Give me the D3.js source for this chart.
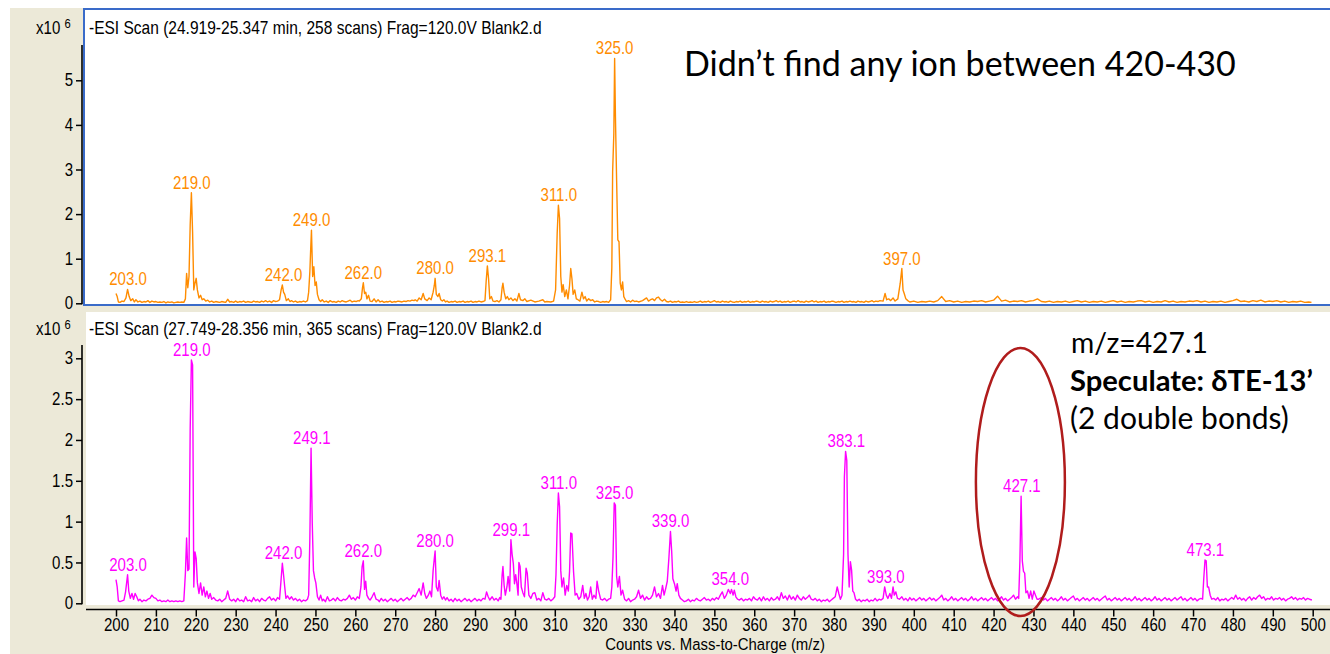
<!DOCTYPE html>
<html>
<head>
<meta charset="utf-8">
<script src="https://cdn.jsdelivr.net/npm/d3@7"></script>
<style>
  html, body { margin: 0; padding: 0; background: #ffffff; overflow: hidden; }
  svg { display: block; }
</style>
</head>
<body>
<svg id="chart" width="1330" height="654"></svg>
<script>
// ---- Spectrum 1: -ESI Scan (24.919-25.347 min), [m/z, counts x10^6] ----
const scanA = [
  [200.0,0.22],[200.3,0.15],[200.6,0.03],[201.0,0.02],[201.5,0.05],[202.0,0.04],[202.5,0.12],[202.9,0.31],[203.3,0.15],[203.7,0.06],
  [204.2,0.10],[204.6,0.03],[205.0,0.08],[205.5,0.03],[206.0,0.05],[206.5,0.02],[207.0,0.04],[207.5,0.03],[208.0,0.06],[208.5,0.02],
  [209.0,0.05],[209.5,0.03],[210.0,0.04],[210.5,0.02],[211.0,0.03],[211.5,0.02],[212.0,0.04],[212.5,0.01],[213.0,0.03],[213.5,0.02],
  [214.0,0.03],[214.5,0.01],[215.0,0.02],[215.5,0.03],[216.0,0.02],[216.5,0.03],[217.0,0.02],[217.4,0.10],[217.7,0.67],[218.0,0.35],
  [218.3,0.60],[218.6,1.76],[218.9,2.48],[219.2,1.60],[219.5,0.30],[219.8,0.45],[220.1,0.56],[220.4,0.30],[220.8,0.12],[221.2,0.18],
  [221.6,0.08],[222.0,0.10],[222.5,0.05],[223.0,0.07],[223.5,0.03],[224.0,0.05],[224.5,0.02],[225.0,0.04],[225.5,0.03],[226.0,0.02],
  [226.5,0.04],[227.0,0.03],[227.5,0.02],[228.0,0.09],[228.5,0.03],[229.0,0.04],[229.5,0.02],[230.0,0.05],[230.5,0.02],[231.0,0.04],
  [231.5,0.03],[232.0,0.05],[232.5,0.02],[233.0,0.04],[233.5,0.03],[234.0,0.02],[234.5,0.05],[235.0,0.03],[235.5,0.04],[236.0,0.02],
  [236.5,0.05],[237.0,0.03],[237.5,0.06],[238.0,0.03],[238.5,0.05],[239.0,0.02],[239.5,0.06],[240.0,0.04],[240.5,0.05],[241.0,0.08],
  [241.4,0.30],[241.7,0.41],[242.0,0.25],[242.3,0.20],[242.7,0.06],[243.2,0.10],[243.6,0.04],[244.0,0.06],[244.5,0.03],[245.0,0.05],
  [245.5,0.02],[246.0,0.04],[246.5,0.03],[247.0,0.05],[247.5,0.03],[248.0,0.06],[248.3,0.25],[248.6,0.71],[248.8,1.20],[249.0,1.64],
  [249.3,0.60],[249.6,0.82],[249.9,0.40],[250.2,0.48],[250.5,0.20],[250.9,0.08],[251.3,0.04],[251.7,0.08],[252.2,0.03],[252.7,0.05],
  [253.2,0.02],[253.7,0.06],[254.2,0.03],[254.7,0.04],[255.2,0.02],[255.7,0.05],[256.2,0.03],[256.7,0.06],[257.2,0.04],[257.7,0.03],
  [258.2,0.05],[258.7,0.07],[259.2,0.03],[259.7,0.05],[260.2,0.04],[260.7,0.06],[261.0,0.05],[261.5,0.10],[261.8,0.35],[262.0,0.46],
  [262.3,0.22],[262.6,0.25],[262.9,0.10],[263.3,0.18],[263.7,0.05],[264.2,0.04],[264.7,0.10],[265.2,0.03],[265.7,0.08],[266.2,0.03],
  [266.7,0.05],[267.2,0.02],[267.7,0.04],[268.2,0.03],[268.7,0.05],[269.2,0.02],[269.7,0.04],[270.2,0.03],[270.7,0.05],[271.2,0.04],
  [271.7,0.03],[272.2,0.05],[272.7,0.04],[273.2,0.06],[273.7,0.05],[274.2,0.07],[274.7,0.06],[275.0,0.08],[275.5,0.05],[276.0,0.12],
  [276.5,0.08],[277.0,0.22],[277.4,0.10],[278.0,0.06],[278.5,0.12],[279.0,0.08],[279.5,0.25],[279.8,0.40],[280.0,0.56],[280.3,0.20],
  [280.7,0.15],[281.0,0.22],[281.4,0.08],[281.8,0.05],[282.2,0.08],[282.6,0.03],[283.0,0.05],[283.5,0.02],[284.0,0.04],[284.5,0.03],
  [285.0,0.05],[285.5,0.02],[286.0,0.04],[286.5,0.03],[287.0,0.05],[287.5,0.02],[288.0,0.04],[288.5,0.03],[289.0,0.05],[289.5,0.02],
  [290.0,0.04],[290.5,0.03],[291.0,0.05],[291.5,0.03],[292.0,0.04],[292.5,0.06],[292.8,0.50],[293.1,0.84],[293.4,0.55],[293.7,0.10],
  [294.1,0.15],[294.5,0.05],[295.0,0.04],[295.5,0.06],[296.0,0.03],[296.5,0.08],[296.8,0.35],[297.0,0.45],[297.3,0.25],[297.7,0.10],
  [298.1,0.15],[298.5,0.08],[299.0,0.12],[299.5,0.06],[300.0,0.10],[300.5,0.05],[301.0,0.22],[301.4,0.08],[302.0,0.06],[302.5,0.10],
  [303.0,0.04],[304.0,0.07],[305.0,0.03],[306.0,0.05],[307.0,0.08],[307.5,0.03],[308.0,0.04],[309.0,0.03],[309.7,0.05],[310.2,0.30],
  [310.6,1.57],[310.9,2.20],[311.2,1.90],[311.5,0.60],[311.8,0.25],[312.1,0.42],[312.5,0.15],[312.9,0.30],[313.3,0.10],[313.7,0.40],
  [314.0,0.78],[314.3,0.55],[314.6,0.20],[315.0,0.30],[315.4,0.10],[315.8,0.08],[316.3,0.05],[316.8,0.25],[317.2,0.10],[317.6,0.15],
  [318.0,0.05],[318.5,0.10],[319.0,0.06],[319.5,0.08],[320.0,0.03],[320.5,0.05],[321.0,0.04],[321.5,0.02],[322.0,0.04],[322.5,0.03],
  [323.0,0.04],[323.5,0.02],[324.0,0.08],[324.3,0.80],[324.5,2.95],[324.8,3.80],[325.0,5.49],[325.2,4.20],[325.5,2.76],[325.8,1.42],
  [326.1,1.38],[326.4,0.45],[326.7,0.30],[327.0,0.48],[327.3,0.15],[327.7,0.08],[328.0,0.04],[328.5,0.06],[329.0,0.03],[329.5,0.07],
  [330.0,0.04],[330.5,0.05],[331.0,0.03],[332.0,0.06],[333.0,0.12],[333.5,0.05],[334.0,0.08],[334.5,0.10],[335.0,0.06],[335.5,0.12],
  [336.0,0.14],[336.5,0.08],[337.0,0.05],[337.5,0.09],[338.0,0.04],[338.5,0.03],[339.0,0.05],[339.5,0.02],[340.0,0.04],[340.5,0.03],
  [341.0,0.05],[341.5,0.02],[342.0,0.03],[342.5,0.02],[343.0,0.04],[343.5,0.02],[344.0,0.03],[344.5,0.02],[345.0,0.04],[345.5,0.02],
  [346.0,0.03],[346.5,0.05],[347.0,0.02],[347.5,0.04],[348.0,0.03],[348.5,0.05],[349.0,0.02],[349.5,0.04],[350.0,0.06],[350.5,0.03],
  [351.0,0.04],[351.5,0.02],[352.0,0.05],[352.5,0.03],[353.0,0.04],[353.5,0.02],[354.0,0.05],[354.5,0.03],[355.0,0.02],[355.5,0.04],
  [356.0,0.03],[356.5,0.05],[357.0,0.02],[357.5,0.04],[358.0,0.03],[358.5,0.05],[359.0,0.02],[359.5,0.04],[360.0,0.03],[360.5,0.05],
  [361.0,0.04],[361.5,0.02],[362.0,0.05],[362.5,0.03],[363.0,0.04],[363.5,0.02],[364.0,0.05],[364.5,0.03],[365.0,0.04],[365.5,0.06],
  [366.0,0.03],[366.5,0.05],[367.0,0.02],[367.5,0.04],[368.0,0.03],[368.5,0.05],[369.0,0.02],[369.5,0.04],[370.0,0.05],[370.5,0.03],
  [371.0,0.06],[371.5,0.03],[372.0,0.04],[372.5,0.02],[373.0,0.05],[373.5,0.03],[374.0,0.04],[374.5,0.06],[375.0,0.03],[375.5,0.05],
  [376.0,0.02],[376.5,0.04],[377.0,0.03],[377.5,0.05],[378.0,0.02],[378.5,0.04],[379.0,0.03],[379.5,0.05],[380.0,0.04],[380.5,0.02],
  [381.0,0.04],[381.5,0.03],[382.0,0.05],[382.5,0.02],[383.0,0.04],[383.5,0.03],[384.0,0.05],[384.5,0.03],[385.0,0.04],[385.5,0.02],
  [386.0,0.05],[386.5,0.03],[387.0,0.04],[387.5,0.02],[388.0,0.05],[388.5,0.03],[389.0,0.04],[389.5,0.06],[390.0,0.03],[390.5,0.05],
  [391.0,0.04],[391.5,0.06],[392.3,0.05],[392.8,0.22],[393.2,0.08],[393.7,0.10],[394.2,0.06],[394.8,0.12],[395.3,0.05],[396.0,0.10],
  [396.6,0.45],[397.0,0.78],[397.3,0.30],[397.6,0.22],[398.0,0.10],[398.5,0.06],[399.0,0.03],[400.0,0.05],[401.0,0.02],[402.0,0.04],
  [403.0,0.03],[404.0,0.05],[405.0,0.03],[406.0,0.06],[407.0,0.15],[408.0,0.04],[409.0,0.06],[410.0,0.03],[411.0,0.05],[412.0,0.02],
  [413.0,0.04],[414.0,0.03],[415.0,0.05],[416.0,0.04],[417.0,0.06],[418.0,0.03],[419.0,0.05],[420.0,0.07],[421.0,0.16],[422.0,0.05],
  [423.0,0.07],[424.0,0.03],[425.0,0.05],[426.0,0.04],[427.0,0.06],[428.0,0.03],[429.0,0.05],[430.0,0.06],[431.0,0.10],[432.0,0.04],
  [433.0,0.03],[434.0,0.05],[435.0,0.02],[436.0,0.04],[437.0,0.03],[438.0,0.05],[439.0,0.02],[440.0,0.04],[441.0,0.06],[442.0,0.03],
  [443.0,0.05],[444.0,0.02],[445.0,0.04],[446.0,0.03],[447.0,0.05],[448.0,0.02],[449.0,0.04],[450.0,0.06],[451.0,0.03],[452.0,0.05],
  [453.0,0.02],[454.0,0.04],[455.0,0.03],[456.0,0.05],[457.0,0.06],[458.0,0.03],[459.0,0.05],[460.0,0.02],[461.0,0.04],[462.0,0.03],
  [463.0,0.06],[464.0,0.03],[465.0,0.05],[466.0,0.02],[467.0,0.04],[468.0,0.03],[469.0,0.05],[470.0,0.04],[471.0,0.06],[472.0,0.03],
  [473.0,0.05],[474.0,0.02],[475.0,0.04],[476.0,0.03],[477.0,0.05],[478.0,0.02],[479.0,0.04],[480.0,0.06],[481.0,0.09],[482.0,0.04],
  [483.0,0.05],[484.0,0.03],[485.0,0.06],[486.0,0.04],[487.0,0.07],[488.0,0.03],[489.0,0.05],[490.0,0.04],[491.0,0.06],[492.0,0.03],
  [493.0,0.05],[494.0,0.02],[495.0,0.04],[496.0,0.03],[497.0,0.05],[498.0,0.02],[499.0,0.03],[499.7,0.02]
];

// ---- Spectrum 2: -ESI Scan (27.749-28.356 min), [m/z, counts x10^6] ----
const scanB = [
  [200.0,0.29],[200.3,0.20],[200.6,0.03],[201.0,0.02],[201.5,0.03],[202.0,0.04],[202.4,0.14],[202.9,0.35],[203.2,0.15],[203.6,0.06],
  [204.0,0.12],[204.4,0.05],[204.8,0.12],[205.2,0.08],[205.6,0.03],[206.0,0.05],[206.5,0.02],[207.0,0.04],[207.5,0.03],[208.0,0.05],
  [208.5,0.06],[209.0,0.10],[209.5,0.07],[210.0,0.06],[210.5,0.03],[211.0,0.04],[211.5,0.02],[212.0,0.03],[212.5,0.02],[213.0,0.04],
  [213.5,0.02],[214.0,0.03],[214.5,0.02],[215.0,0.03],[215.5,0.02],[216.0,0.03],[216.5,0.02],[217.0,0.03],[217.4,0.37],[217.7,0.80],
  [218.0,0.40],[218.3,0.42],[218.6,2.14],[218.9,2.98],[219.2,2.92],[219.5,0.20],[219.8,0.63],[220.1,0.55],[220.4,0.25],[220.8,0.12],
  [221.2,0.25],[221.6,0.10],[222.0,0.20],[222.4,0.08],[222.8,0.15],[223.2,0.06],[223.6,0.12],[224.0,0.05],[224.5,0.07],[225.0,0.04],
  [225.5,0.03],[226.0,0.05],[226.5,0.02],[227.0,0.04],[227.5,0.06],[228.0,0.15],[228.5,0.05],[229.0,0.03],[229.5,0.05],[230.0,0.02],
  [230.5,0.06],[231.0,0.03],[231.5,0.04],[232.0,0.02],[232.5,0.08],[233.0,0.03],[233.5,0.04],[234.0,0.02],[234.5,0.07],[235.0,0.03],
  [235.5,0.05],[236.0,0.02],[236.5,0.06],[237.0,0.04],[237.5,0.03],[238.0,0.06],[238.5,0.08],[239.0,0.04],[239.5,0.06],[240.0,0.03],
  [240.5,0.07],[241.0,0.05],[241.4,0.30],[241.7,0.49],[242.0,0.35],[242.3,0.20],[242.6,0.06],[243.0,0.09],[243.5,0.05],[244.0,0.08],
  [244.5,0.04],[245.0,0.06],[245.5,0.03],[246.0,0.05],[246.5,0.02],[247.0,0.04],[247.5,0.03],[248.0,0.05],[248.3,0.10],[248.6,0.80],
  [248.9,1.90],[249.2,0.98],[249.5,0.40],[249.8,0.31],[250.1,0.25],[250.5,0.08],[250.9,0.04],[251.3,0.10],[251.7,0.03],[252.0,0.05],
  [252.5,0.02],[253.0,0.08],[253.5,0.03],[254.0,0.04],[254.5,0.06],[255.0,0.03],[255.5,0.07],[256.0,0.04],[256.5,0.03],[257.0,0.05],
  [257.5,0.04],[258.0,0.06],[258.5,0.10],[259.0,0.05],[259.5,0.07],[260.0,0.04],[260.5,0.08],[261.0,0.06],[261.4,0.20],[261.7,0.45],
  [262.0,0.52],[262.3,0.17],[262.6,0.27],[262.9,0.10],[263.3,0.06],[263.7,0.04],[264.2,0.08],[264.7,0.13],[265.2,0.05],[265.7,0.04],
  [266.0,0.02],[266.5,0.06],[267.0,0.03],[267.5,0.05],[268.0,0.02],[268.5,0.04],[269.0,0.06],[269.5,0.03],[270.0,0.05],[270.5,0.02],
  [271.0,0.04],[271.5,0.06],[272.0,0.03],[272.5,0.05],[273.0,0.07],[273.5,0.04],[274.0,0.06],[274.5,0.10],[275.0,0.08],[275.5,0.13],
  [276.0,0.18],[276.5,0.10],[277.0,0.25],[277.4,0.12],[277.8,0.06],[278.3,0.10],[278.7,0.15],[279.1,0.08],[279.5,0.40],[279.8,0.55],
  [280.0,0.64],[280.3,0.20],[280.7,0.15],[281.0,0.28],[281.4,0.10],[281.8,0.05],[282.2,0.08],[282.6,0.04],[283.0,0.07],[283.5,0.03],
  [284.0,0.05],[284.5,0.02],[285.0,0.06],[285.5,0.03],[286.0,0.05],[286.5,0.02],[287.0,0.04],[287.5,0.06],[288.0,0.03],[288.5,0.05],
  [289.0,0.02],[289.5,0.04],[290.0,0.06],[290.5,0.03],[291.0,0.05],[291.5,0.03],[292.0,0.06],[292.5,0.05],[292.9,0.14],[293.3,0.08],
  [293.7,0.04],[294.3,0.08],[294.8,0.04],[295.3,0.06],[295.8,0.03],[296.2,0.07],[296.5,0.05],[296.8,0.35],[297.0,0.45],[297.3,0.22],
  [297.6,0.10],[298.0,0.20],[298.3,0.33],[298.7,0.15],[299.0,0.78],[299.3,0.60],[299.6,0.49],[299.9,0.24],[300.2,0.35],[300.5,0.24],
  [300.8,0.10],[301.0,0.50],[301.3,0.45],[301.6,0.20],[302.0,0.13],[302.4,0.08],[302.8,0.43],[303.1,0.37],[303.5,0.10],[304.0,0.06],
  [304.5,0.12],[305.0,0.13],[305.5,0.04],[306.0,0.06],[306.5,0.03],[307.0,0.13],[307.5,0.05],[308.0,0.04],[308.5,0.06],[309.0,0.03],
  [309.5,0.05],[310.0,0.08],[310.3,0.35],[310.6,0.96],[310.9,1.35],[311.2,1.18],[311.5,0.40],[311.8,0.20],[312.2,0.31],[312.6,0.10],
  [313.0,0.22],[313.4,0.15],[313.7,0.39],[314.0,0.86],[314.3,0.85],[314.7,0.39],[315.1,0.10],[315.5,0.12],[316.0,0.05],[316.5,0.08],
  [317.0,0.22],[317.4,0.06],[317.8,0.12],[318.2,0.04],[318.6,0.08],[319.0,0.20],[319.4,0.05],[319.8,0.10],[320.3,0.06],[320.6,0.27],
  [321.0,0.15],[321.5,0.05],[322.0,0.04],[322.5,0.06],[323.0,0.03],[323.5,0.05],[324.0,0.06],[324.3,0.20],[324.6,0.57],[324.9,1.23],
  [325.2,1.20],[325.5,0.33],[325.8,0.20],[326.2,0.33],[326.6,0.10],[327.0,0.16],[327.5,0.05],[328.0,0.03],[328.5,0.06],[329.0,0.02],
  [329.5,0.04],[330.0,0.05],[330.5,0.08],[331.0,0.16],[331.5,0.06],[332.0,0.10],[332.5,0.04],[333.0,0.08],[333.5,0.05],[334.0,0.06],
  [334.5,0.10],[335.0,0.20],[335.5,0.08],[336.0,0.12],[336.5,0.06],[337.0,0.22],[337.4,0.10],[337.8,0.18],[338.2,0.27],[338.6,0.55],
  [339.0,0.88],[339.3,0.64],[339.6,0.30],[340.0,0.24],[340.4,0.15],[340.7,0.24],[341.1,0.10],[341.5,0.06],[342.0,0.04],[342.5,0.02],
  [343.0,0.03],[343.5,0.05],[344.0,0.02],[344.5,0.04],[345.0,0.03],[345.5,0.06],[346.0,0.04],[346.5,0.03],[347.0,0.05],[347.5,0.07],
  [348.0,0.04],[348.5,0.05],[349.0,0.03],[349.5,0.06],[350.0,0.04],[350.5,0.07],[351.0,0.05],[351.5,0.10],[352.0,0.14],[352.5,0.06],
  [353.0,0.10],[353.5,0.17],[354.0,0.12],[354.3,0.17],[354.7,0.10],[355.0,0.16],[355.4,0.08],[355.8,0.05],[356.3,0.04],[356.8,0.06],
  [357.3,0.03],[357.8,0.05],[358.3,0.04],[358.8,0.06],[359.3,0.03],[359.8,0.08],[360.3,0.05],[360.8,0.04],[361.3,0.07],[361.8,0.03],
  [362.3,0.08],[362.8,0.04],[363.3,0.06],[363.8,0.03],[364.3,0.07],[364.8,0.04],[365.3,0.05],[365.8,0.08],[366.3,0.04],[366.8,0.13],
  [367.3,0.06],[367.8,0.09],[368.3,0.04],[368.8,0.10],[369.3,0.05],[369.8,0.08],[370.3,0.04],[370.8,0.10],[371.3,0.06],[371.8,0.04],
  [372.3,0.08],[372.8,0.05],[373.3,0.07],[373.8,0.10],[374.3,0.05],[374.8,0.04],[375.3,0.06],[375.8,0.03],[376.3,0.05],[376.8,0.02],
  [377.3,0.04],[377.8,0.03],[378.3,0.05],[378.8,0.02],[379.3,0.04],[379.8,0.06],[380.3,0.08],[380.8,0.20],[381.2,0.12],[381.6,0.05],
  [382.0,0.10],[382.4,0.60],[382.6,1.55],[382.9,1.86],[383.2,1.75],[383.5,0.60],[383.8,0.20],[384.1,0.51],[384.4,0.41],[384.7,0.15],
  [385.0,0.13],[385.4,0.05],[385.8,0.03],[386.3,0.05],[386.8,0.02],[387.3,0.04],[387.8,0.03],[388.3,0.05],[388.8,0.02],[389.3,0.04],
  [389.8,0.03],[390.3,0.06],[390.8,0.03],[391.3,0.05],[391.8,0.04],[392.3,0.06],[392.7,0.20],[393.1,0.10],[393.5,0.06],[394.0,0.12],
  [394.4,0.06],[394.8,0.20],[395.1,0.10],[395.5,0.14],[395.9,0.06],[396.4,0.05],[397.0,0.08],[397.5,0.04],[398.0,0.06],[398.5,0.03],
  [399.0,0.07],[399.5,0.04],[400.0,0.06],[400.5,0.03],[401.0,0.05],[401.5,0.07],[402.0,0.04],[402.5,0.06],[403.0,0.03],[403.5,0.05],
  [404.0,0.07],[404.5,0.04],[405.0,0.06],[405.5,0.03],[406.0,0.05],[406.5,0.07],[407.0,0.10],[407.5,0.04],[408.0,0.06],[408.5,0.03],
  [409.0,0.05],[409.5,0.08],[410.0,0.04],[410.5,0.06],[411.0,0.03],[411.5,0.05],[412.0,0.07],[412.5,0.04],[413.0,0.06],[413.5,0.03],
  [414.0,0.05],[414.5,0.08],[415.0,0.04],[415.5,0.06],[416.0,0.03],[416.5,0.05],[417.0,0.07],[417.5,0.04],[418.0,0.06],[418.5,0.03],
  [419.0,0.05],[419.5,0.07],[420.0,0.04],[420.5,0.06],[421.0,0.03],[421.5,0.05],[422.0,0.08],[422.5,0.04],[423.0,0.06],[423.5,0.03],
  [424.0,0.05],[424.5,0.07],[425.0,0.10],[425.5,0.05],[426.0,0.08],[426.3,0.06],[426.6,0.52],[426.9,1.31],[427.2,0.52],[427.5,0.39],
  [427.8,0.37],[428.1,0.13],[428.5,0.15],[428.9,0.06],[429.3,0.15],[429.7,0.05],[430.1,0.15],[430.5,0.10],[430.9,0.05],[431.3,0.05],
  [432.0,0.07],[432.5,0.04],[433.0,0.06],[433.5,0.03],[434.0,0.05],[434.5,0.07],[435.0,0.04],[435.5,0.06],[436.0,0.03],[436.5,0.05],
  [437.0,0.08],[437.5,0.04],[438.0,0.06],[438.5,0.03],[439.0,0.05],[439.5,0.07],[440.0,0.09],[440.5,0.04],[441.0,0.06],[441.5,0.03],
  [442.0,0.05],[442.5,0.07],[443.0,0.04],[443.5,0.06],[444.0,0.03],[444.5,0.05],[445.0,0.07],[445.5,0.04],[446.0,0.06],[446.5,0.03],
  [447.0,0.05],[447.5,0.07],[448.0,0.09],[448.5,0.04],[449.0,0.06],[449.5,0.03],[450.0,0.05],[450.5,0.07],[451.0,0.04],[451.5,0.06],
  [452.0,0.03],[452.5,0.05],[453.0,0.07],[453.5,0.04],[454.0,0.06],[454.5,0.03],[455.0,0.05],[455.5,0.08],[456.0,0.04],[456.5,0.06],
  [457.0,0.03],[457.5,0.05],[458.0,0.07],[458.5,0.04],[459.0,0.06],[459.5,0.03],[460.0,0.05],[460.5,0.08],[461.0,0.04],[461.5,0.06],
  [462.0,0.03],[462.5,0.05],[463.0,0.07],[463.5,0.04],[464.0,0.06],[464.5,0.03],[465.0,0.05],[465.5,0.07],[466.0,0.04],[466.5,0.06],
  [467.0,0.08],[467.5,0.04],[468.0,0.06],[468.5,0.03],[469.0,0.05],[469.5,0.07],[470.0,0.04],[470.5,0.06],[471.0,0.03],[471.5,0.05],
  [472.0,0.06],[472.4,0.05],[472.7,0.31],[473.0,0.53],[473.3,0.52],[473.6,0.20],[473.9,0.20],[474.3,0.10],[474.7,0.05],[475.2,0.06],
  [475.7,0.04],[476.2,0.07],[476.7,0.03],[477.2,0.05],[477.7,0.04],[478.2,0.06],[478.7,0.03],[479.2,0.05],[479.7,0.07],[480.2,0.05],
  [480.7,0.10],[481.2,0.05],[481.7,0.07],[482.2,0.04],[482.7,0.06],[483.2,0.03],[483.7,0.06],[484.2,0.08],[484.7,0.04],[485.2,0.07],
  [485.7,0.05],[486.2,0.08],[486.7,0.10],[487.2,0.06],[487.7,0.08],[488.2,0.04],[488.7,0.06],[489.2,0.05],[489.7,0.08],[490.2,0.04],
  [490.7,0.06],[491.2,0.05],[491.7,0.07],[492.2,0.04],[492.7,0.06],[493.2,0.03],[493.7,0.05],[494.2,0.06],[494.7,0.08],[495.2,0.05],
  [495.7,0.07],[496.2,0.04],[496.7,0.06],[497.2,0.05],[497.7,0.07],[498.2,0.04],[498.7,0.06],[499.2,0.05],[499.8,0.04]
];

// Peak annotations (m/z) shown above each spectrum
const peaksA = [203.0, 219.0, 242.0, 249.0, 262.0, 280.0, 293.1, 311.0, 325.0, 397.0];
const peaksB = [203.0, 219.0, 242.0, 249.1, 262.0, 280.0, 299.1, 311.0, 325.0, 339.0, 354.0, 383.1, 393.0, 427.1, 473.1];

// Axis ticks
const mzTicks = [200,210,220,230,240,250,260,270,280,290,300,310,320,330,340,350,360,370,380,390,400,410,420,430,440,450,460,470,480,490,500];
const countTicksA = [0,1,2,3,4,5];
const countTicksB = [0,0.5,1,1.5,2,2.5,3];

// Text
const titleA = "-ESI Scan (24.919-25.347 min, 258 scans) Frag=120.0V Blank2.d";
const titleB = "-ESI Scan (27.749-28.356 min, 365 scans) Frag=120.0V Blank2.d";
const xTitle = "Counts vs. Mass-to-Charge (m/z)";
const noteA = "Didn\u2019t find any ion between 420-430";
const noteB = ["m/z=427.1", "Speculate: \u03B4TE-13\u2019", "(2 double bonds)"];
const circledMz = 427.1;

// ---------------------------------------------------------------
const UI_FONT = "'Liberation Sans', Arial, sans-serif";
const UI_SIZE = 17.5;
const UI_SQUEEZE = 0.86;          // narrow, tall instrument-software lettering
const NOTE_FONT = "Lato, 'Open Sans', sans-serif";
const ORANGE = "#FF8C00";
const MAGENTA = "#FF00FF";
const PANEL_BG = "#ECE9D8";
const SEL_BLUE = "#3A6BC9";

const svg = d3.select("#chart");

// Scale a text element's font size so it spans a given width
function fitWidth(sel, width) {
  const w = sel.node().getComputedTextLength();
  const fs = parseFloat(sel.attr("font-size"));
  sel.attr("font-size", fs * width / w);
  return sel;
}

// Place a free-standing text at (px, py) and compress it horizontally
function narrowText(sel, px, py, sx) {
  sel.attr("x", 0).attr("y", 0).attr("transform", `translate(${px},${py}) scale(${sx},1)`);
  return sel;
}

// Compress axis tick labels horizontally while keeping their anchor point
function narrowTicks(axisG, sx) {
  axisG.selectAll("text").each(function () {
    const t = d3.select(this);
    const x0 = parseFloat(t.attr("x")) || 0;
    t.attr("x", x0 / sx).attr("transform", `scale(${sx},1)`);
  });
}

// Window background
svg.append("rect").attr("x", 10).attr("y", 8).attr("width", 1320).attr("height", 646).attr("fill", PANEL_BG);

// Shared m/z scale
const x = d3.scaleLinear().domain([200, 500]).range([116, 1312.7]);

// Count scales for each pane
const yA = d3.scaleLinear().domain([0, 5]).range([303.3, 80.3]);
const yB = d3.scaleLinear().domain([0, 3]).range([603.3, 358.3]);

// Plot backgrounds
svg.append("rect").attr("x", 84).attr("y", 9).attr("width", 1260).attr("height", 296)
  .attr("fill", "#fff").attr("stroke", SEL_BLUE).attr("stroke-width", 2);
svg.append("rect").attr("x", 86).attr("y", 312).attr("width", 1250).attr("height", 293).attr("fill", "#fff");

function drawPane(data, y, ticks, axisTop, color, peaks, title, baseTitleY) {
  // y axis
  const ax = svg.append("g").attr("transform", "translate(82,0)")
    .call(d3.axisLeft(y).tickValues(ticks).tickSize(6).tickPadding(3).tickFormat(d3.format("~g")));
  ax.select(".domain").remove();
  ax.selectAll("line").attr("stroke", "#000").attr("stroke-width", 1.5);
  ax.selectAll("text").attr("font-family", UI_FONT).attr("font-size", UI_SIZE).attr("fill", "#000");
  narrowTicks(ax, UI_SQUEEZE);
  svg.append("line").attr("x1", 82).attr("x2", 82).attr("y1", axisTop).attr("y2", y(0) + 1)
    .attr("stroke", "#000").attr("stroke-width", 1.6);

  // exponent label
  const ex = svg.append("text").attr("font-family", UI_FONT).attr("font-size", UI_SIZE).attr("fill", "#000");
  ex.append("tspan").text("x10");
  ex.append("tspan").attr("dx", 5).attr("dy", -6).attr("font-size", 13).text("6");
  narrowText(ex, 36, baseTitleY, UI_SQUEEZE);

  // scan title, compressed to the pane's caption width
  const tt = svg.append("text").attr("font-family", UI_FONT).attr("font-size", UI_SIZE)
    .attr("fill", "#000").text(title);
  narrowText(tt, 89, baseTitleY, 453 / tt.node().getComputedTextLength());

  // spectrum trace
  const line = d3.line().x(d => x(d[0])).y(d => y(d[1]));
  svg.append("path").datum(data).attr("d", line)
    .attr("fill", "none").attr("stroke", color).attr("stroke-width", 1.4).attr("stroke-linejoin", "round");

  // peak labels, placed just above the highest point of each labelled peak
  const g = svg.append("g");
  peaks.forEach(d => {
    const near = data.filter(p => Math.abs(p[0] - d) <= 0.6);
    const t = g.append("text").attr("text-anchor", "middle")
      .attr("font-family", UI_FONT).attr("font-size", UI_SIZE).attr("fill", color)
      .text(d.toFixed(1));
    narrowText(t, x(d), y(d3.max(near, p => p[1])) - 4, UI_SQUEEZE);
  });
}

drawPane(scanA, yA, countTicksA, 45, ORANGE, peaksA, titleA, 34);
drawPane(scanB, yB, countTicksB, 345, MAGENTA, peaksB, titleB, 335);

// m/z axis under the lower pane
const xa = svg.append("g").attr("transform", "translate(0,609.5)")
  .call(d3.axisBottom(x).tickValues(mzTicks).tickSize(7).tickPadding(2).tickFormat(d3.format("d")));
xa.select(".domain").remove();
xa.selectAll("line").attr("stroke", "#000").attr("stroke-width", 1.5);
xa.selectAll("text").attr("font-family", UI_FONT).attr("font-size", UI_SIZE).attr("fill", "#000");
narrowTicks(xa, UI_SQUEEZE);
svg.append("line").attr("x1", 86).attr("x2", 1330).attr("y1", 609.5).attr("y2", 609.5)
  .attr("stroke", "#000").attr("stroke-width", 1.6);
const xt = svg.append("text").attr("text-anchor", "middle")
  .attr("font-family", UI_FONT).attr("font-size", 16.5).attr("fill", "#000").text(xTitle);
narrowText(xt, 715, 650, 220 / xt.node().getComputedTextLength());

// Annotation for the upper pane
fitWidth(svg.append("text").attr("x", 684).attr("y", 76)
  .attr("font-family", NOTE_FONT).attr("font-size", 30).attr("fill", "#000").text(noteA), 552);

// Annotations for the lower pane
fitWidth(svg.append("text").attr("x", 1071).attr("y", 353)
  .attr("font-family", NOTE_FONT).attr("font-size", 24).attr("fill", "#000").text(noteB[0]), 137);
fitWidth(svg.append("text").attr("x", 1070).attr("y", 391)
  .attr("font-family", NOTE_FONT).attr("font-size", 24).attr("font-weight", "bold").attr("fill", "#000").text(noteB[1]), 243);
fitWidth(svg.append("text").attr("x", 1070).attr("y", 429)
  .attr("font-family", NOTE_FONT).attr("font-size", 24).attr("fill", "#000").text(noteB[2]), 219);

// Ring around the 427.1 peak
svg.append("ellipse").attr("cx", x(circledMz) - 1.5).attr("cy", 482)
  .attr("rx", 44.5).attr("ry", 134)
  .attr("fill", "none").attr("stroke", "#B01C1C").attr("stroke-width", 2.5);
</script>
</body>
</html>
